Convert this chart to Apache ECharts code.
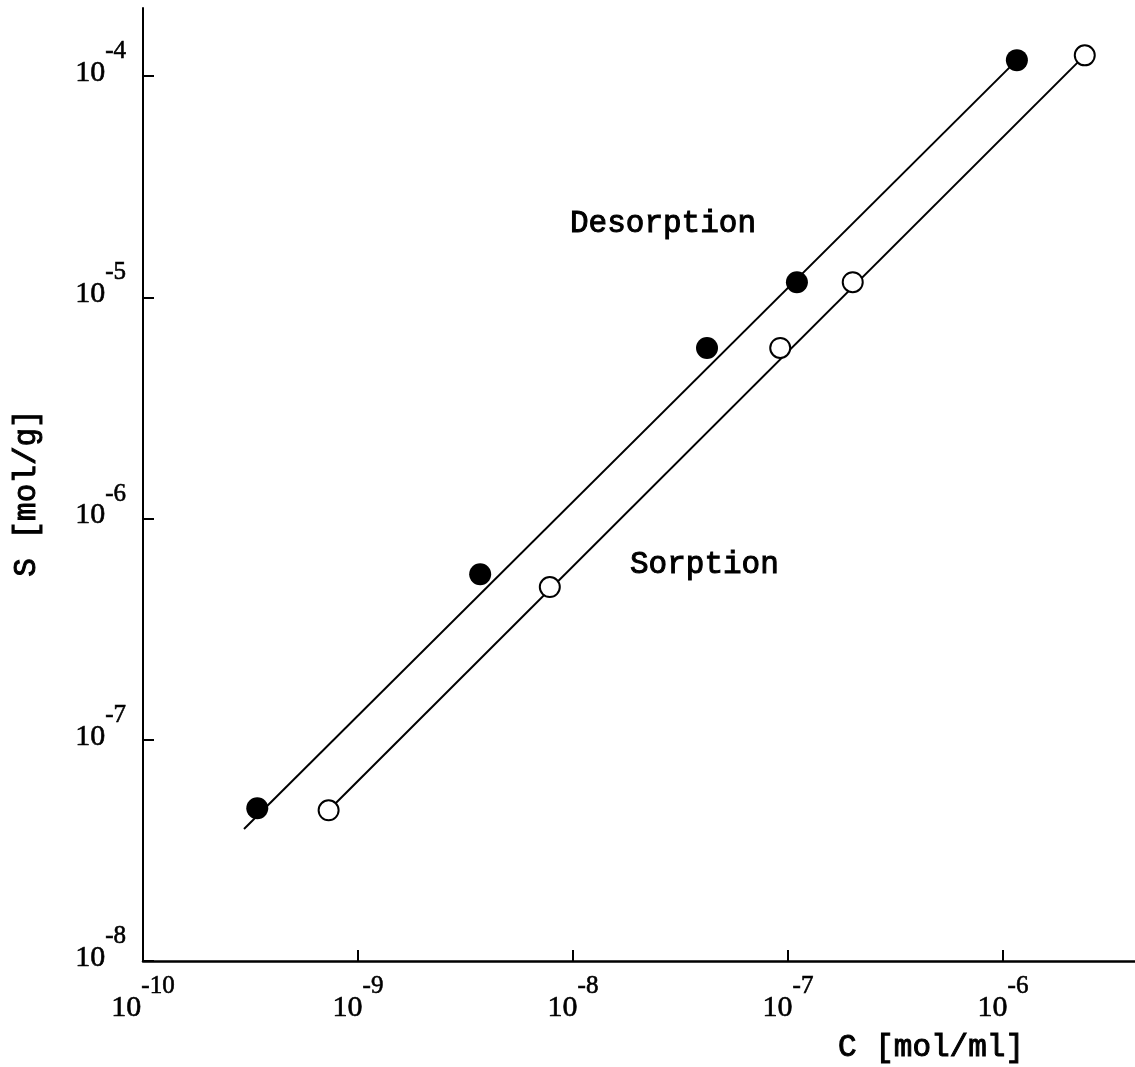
<!DOCTYPE html>
<html>
<head>
<meta charset="utf-8">
<script src="https://cdn.jsdelivr.net/npm/echarts@6/dist/echarts.min.js"></script>
<style>
html, body { margin: 0; padding: 0; background: #fff; }
#chart { width: 1135px; height: 1067px; }
</style>
</head>
<body>
<div id="chart"></div>
<script>
// C [mol/ml] vs S [mol/g]
var desorptionC = [3.4e-10, 3.7e-9, 4.2e-8, 1.1e-7, 1.16e-6];
var desorptionS = [4.9e-8, 5.6e-7, 5.9e-6, 1.17e-5, 1.18e-4];
var sorptionC = [7.3e-10, 7.8e-9, 9.2e-8, 2.0e-7, 2.4e-6];
var sorptionS = [4.8e-8, 4.9e-7, 5.9e-6, 1.17e-5, 1.24e-4];
// straight fitted lines, end points
var desorptionFitC = [2.95e-10, 1.16e-6];
var desorptionFitS = [3.95e-8, 1.18e-4];
var sorptionFitC = [7.3e-10, 2.4e-6];
var sorptionFitS = [4.8e-8, 1.24e-4];
// axis ticks
var xTicks = [1e-10, 1e-9, 1e-8, 1e-7, 1e-6];
var yTicks = [1e-8, 1e-7, 1e-6, 1e-5, 1e-4];
var xMin = 1e-10, xMax = 4.11e-6;
var yMin = 1e-8, yMax = 2.03e-4;

function zip(a, b) {
  return a.map(function (v, i) { return [v, b[i]]; });
}

function powLabel(v) {
  var lg = Math.log10(v);
  var e = Math.round(lg);
  if (Math.abs(lg - e) > 0.01) return '';
  return '{b|10}{s|-' + (-e) + '}';
}

// superscript: small token at the top of a tall line, "10" in the middle
var rich = {
  b: { fontFamily: 'Liberation Serif', fontSize: 30, lineHeight: 68, verticalAlign: 'middle', color: '#000', textBorderColor: '#000', textBorderWidth: 0.6 },
  s: { fontFamily: 'Liberation Serif', fontSize: 25, lineHeight: 25, verticalAlign: 'top', color: '#000', textBorderColor: '#000', textBorderWidth: 0.6 }
};

var typeFont = '31px "Liberation Mono"';

var myChart = echarts.init(document.getElementById('chart'));
var option = {
  animation: false,
  backgroundColor: '#fff',
  grid: {
    left: 143,
    right: 0,
    top: 8,
    bottom: 106,
    containLabel: false,
    outerBoundsMode: 'none'
  },
  xAxis: {
    type: 'log',
    logBase: 10,
    min: xMin,
    max: xMax,
    splitLine: { show: false },
    axisLine: { lineStyle: { color: '#000', width: 2.5 } },
    axisTick: { inside: true, length: 11, lineStyle: { color: '#000', width: 2 }, customValues: xTicks },
    axisLabel: { margin: 13, formatter: powLabel, rich: rich, customValues: xTicks, showMinLabel: true, showMaxLabel: true }
  },
  yAxis: {
    type: 'log',
    logBase: 10,
    min: yMin,
    max: yMax,
    splitLine: { show: false },
    axisLine: { lineStyle: { color: '#000', width: 2 } },
    axisTick: { inside: true, length: 11, lineStyle: { color: '#000', width: 2 }, customValues: yTicks },
    axisLabel: { margin: 17, padding: [0, 0, 6, 0], formatter: powLabel, rich: rich, customValues: yTicks, showMinLabel: true, showMaxLabel: true }
  },
  graphic: [
    { type: 'text', x: 570, y: 224, style: { text: 'Desorption', font: typeFont, fill: '#000', stroke: '#000', lineWidth: 1, align: 'left', verticalAlign: 'middle' } },
    { type: 'text', x: 630, y: 565, style: { text: 'Sorption', font: typeFont, fill: '#000', stroke: '#000', lineWidth: 1, align: 'left', verticalAlign: 'middle' } },
    { type: 'text', x: 838, y: 1048, style: { text: 'C [mol/ml]', font: typeFont, fill: '#000', stroke: '#000', lineWidth: 1, align: 'left', verticalAlign: 'middle' } },
    { type: 'text', x: 27, y: 493, rotation: Math.PI / 2, style: { text: 'S [mol/g]', font: typeFont, fill: '#000', stroke: '#000', lineWidth: 1, align: 'center', verticalAlign: 'middle' } }
  ],
  series: [
    {
      name: 'Desorption fit',
      type: 'line',
      data: zip(desorptionFitC, desorptionFitS),
      symbol: 'none',
      lineStyle: { color: '#000', width: 2 },
      z: 1
    },
    {
      name: 'Sorption fit',
      type: 'line',
      data: zip(sorptionFitC, sorptionFitS),
      symbol: 'none',
      lineStyle: { color: '#000', width: 2 },
      z: 1
    },
    {
      name: 'Desorption',
      type: 'scatter',
      data: zip(desorptionC, desorptionS),
      symbolSize: 22,
      itemStyle: { color: '#000', opacity: 1 },
      z: 3
    },
    {
      name: 'Sorption',
      type: 'scatter',
      data: zip(sorptionC, sorptionS),
      symbolSize: 20,
      itemStyle: { color: '#fff', borderColor: '#000', borderWidth: 2, opacity: 1 },
      z: 3
    }
  ]
};
myChart.setOption(option, true);
</script>
</body>
</html>
